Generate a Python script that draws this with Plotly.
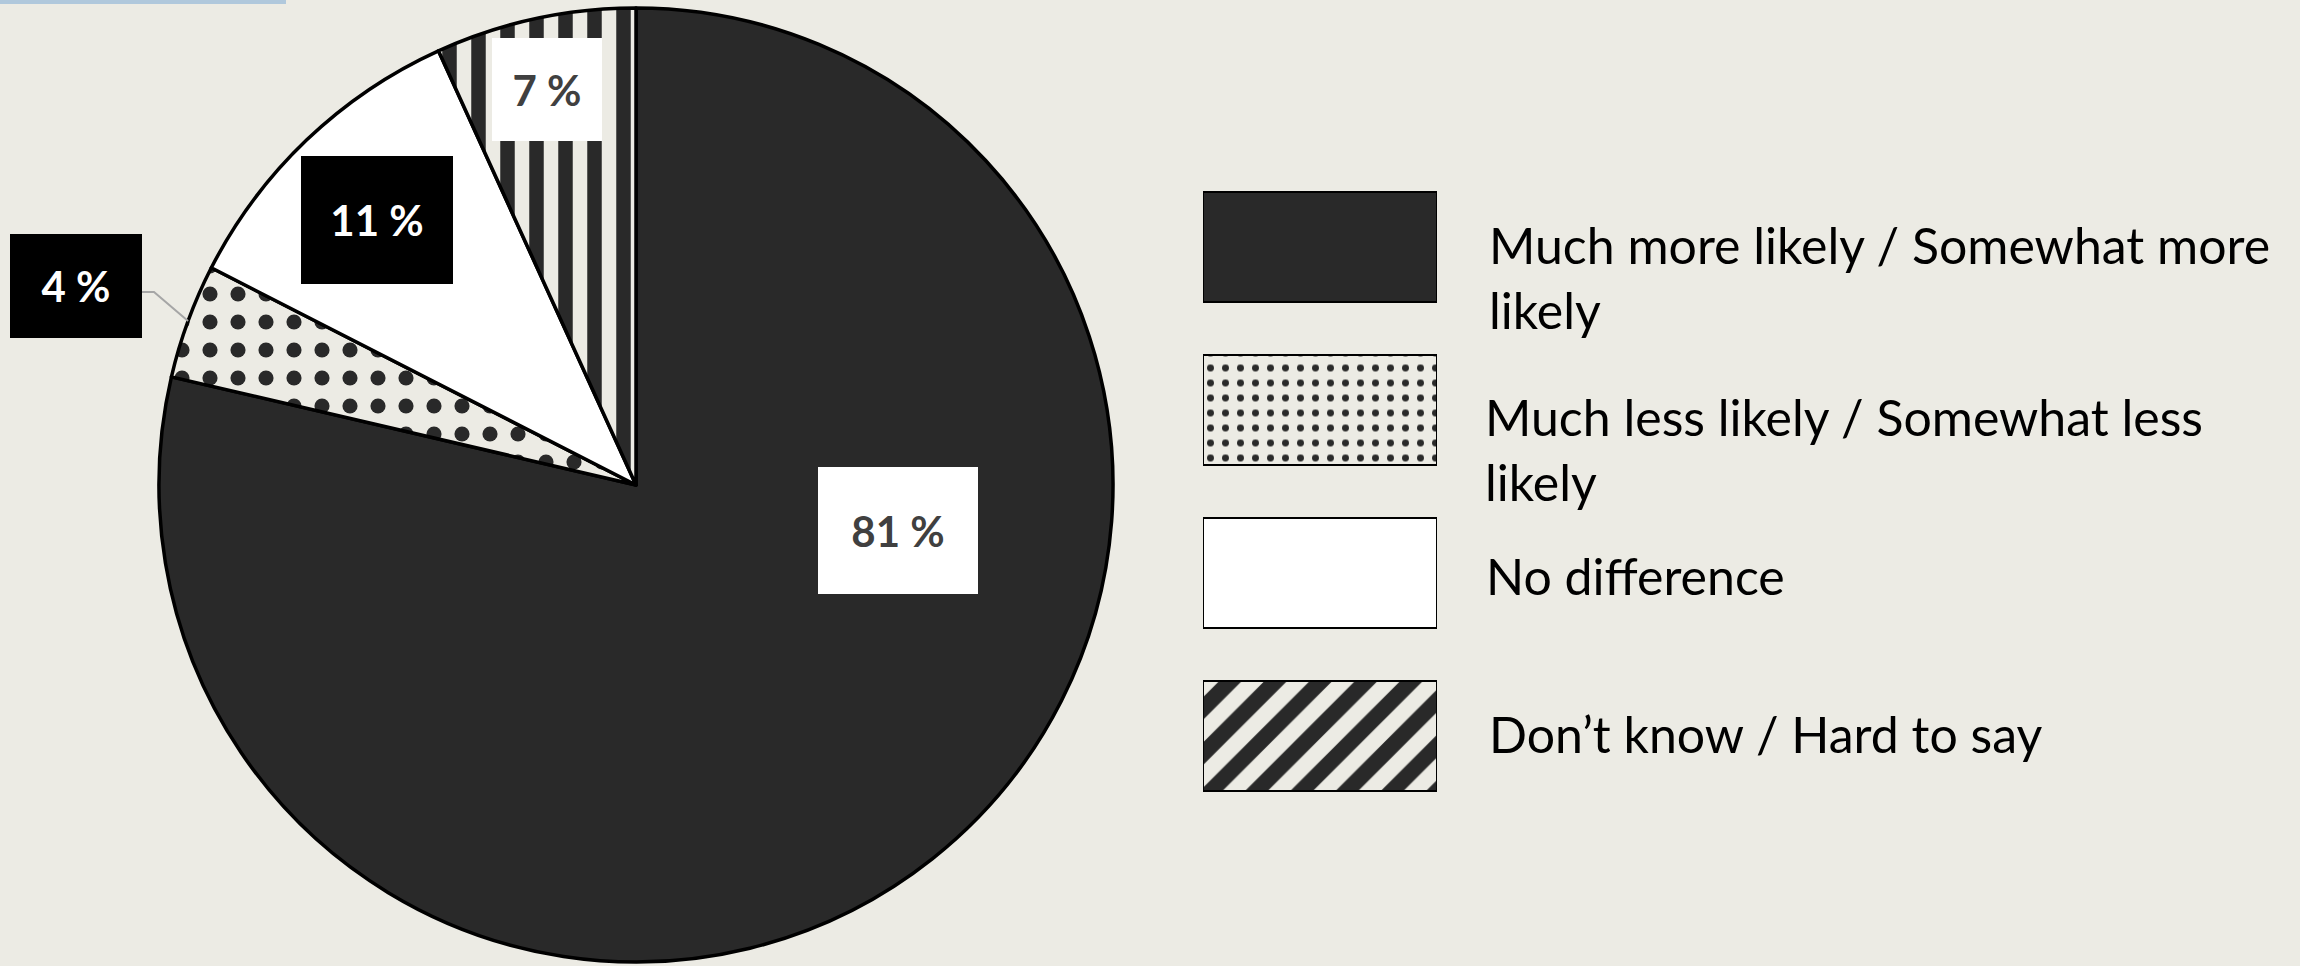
import math
import plotly.graph_objects as go

# ---- data ----
categories = [
    "Much more likely / Somewhat more likely",
    "Much less likely / Somewhat less likely",
    "No difference",
    "Don’t know / Hard to say",
]
legend_texts = [
    "Much more likely / Somewhat more<br>likely",
    "Much less likely / Somewhat less<br>likely",
    "No difference",
    "Don’t know / Hard to say",
]
values = [81, 4, 11, 7]
label_texts = [f"{v} %" for v in values]

# ---- styles ----
W, H = 2300, 966
BG = "#ecebe4"
DARK = "#292929"
fills = [DARK, BG, "#ffffff", BG]
pie_shapes = ["", ".", "", "|"]
pie_fg = [DARK, DARK, "#ffffff", DARK]
pie_size = [10, 28, 10, 29]
pie_sol = [0.3, 0.23, 0.3, 0.5]

leg_shapes = ["", ".", "", "/"]
leg_size = [10, 15, 10, 32]
leg_sol = [0.3, 0.17, 0.3, 0.5]

CX, CY, R = 636, 485, 477  # pie center / radius in px


def px(x):
    return x / W


def py(y):
    return 1 - y / H


fig = go.Figure()

fig.add_trace(go.Pie(
    labels=categories,
    values=values,
    sort=False,
    direction="clockwise",
    rotation=0,
    textinfo="none",
    hoverinfo="label+value",
    showlegend=False,
    domain=dict(x=[px(CX - R), px(CX + R)], y=[py(CY + R), py(CY - R)]),
    marker=dict(
        colors=fills,
        line=dict(color="#000000", width=3.5),
        pattern=dict(shape=pie_shapes, fgcolor=pie_fg, bgcolor=fills,
                     size=pie_size, solidity=pie_sol, fillmode="replace"),
    ),
))

# legend swatches as bars on a hidden axis (one trace per category)
for i, cat in enumerate(categories):
    pat = dict(shape=leg_shapes[i], fgcolor=DARK, bgcolor=fills[i],
               size=leg_size[i], solidity=leg_sol[i], fillmode="replace") \
        if leg_shapes[i] else dict(shape="")
    fig.add_trace(go.Bar(
        x=[1],
        y=[i],
        orientation="h",
        width=0.675,
        base=0,
        xaxis="x2",
        yaxis="y2",
        name=cat,
        showlegend=False,
        hoverinfo="skip",
        marker=dict(color=fills[i], line=dict(color="#000000", width=2),
                    pattern=pat),
    ))

row_top, row_step = 165.5, 163
fig.update_layout(
    width=W, height=H,
    margin=dict(l=0, r=0, t=0, b=0),
    paper_bgcolor=BG, plot_bgcolor=BG,
    barmode="overlay",
    xaxis2=dict(domain=[px(1203), px(1437)], range=[0, 1], visible=False,
                fixedrange=True, anchor="y2"),
    yaxis2=dict(domain=[py(row_top + 4 * row_step), py(row_top)],
                range=[3.5, -0.5], visible=False, fixedrange=True, anchor="x2"),
    xaxis=dict(visible=False), yaxis=dict(visible=False),
)

# legend texts
legend_y = [277, 449, 576, 734]
legend_x = [1487, 1483, 1484, 1487]
for t, yy, xx in zip(legend_texts, legend_y, legend_x):
    fig.add_annotation(
        x=px(xx), y=py(yy), xref="paper", yref="paper",
        text=t, showarrow=False, xanchor="left", yanchor="middle", align="left",
        font=dict(family="Lato", size=50, color="#000000"),
    )

# data labels (boxes)
lab_pos = [(898, 530), (76, 286), (377, 220), (547, 90)]
lab_box = [(160, 127), (132, 104), (152, 128), (110, 103)]
lab_bg = ["#ffffff", "#000000", "#000000", "#ffffff"]
lab_fc = ["#404040", "#ffffff", "#ffffff", "#404040"]
for t, (lx, ly), (bw, bh), bg, fc in zip(label_texts, lab_pos, lab_box, lab_bg, lab_fc):
    fig.add_annotation(
        x=px(lx), y=py(ly), xref="paper", yref="paper",
        text=f"<b>{t}</b>", showarrow=False, xanchor="center", yanchor="middle",
        width=bw, height=bh, bgcolor=bg, borderpad=0, borderwidth=0,
        valign="middle", align="center",
        font=dict(family="Lato", size=42, color=fc),
    )

# leader line for the small slice (ends at the slice's mid-angle on the rim)
total = sum(values)
start = sum(values[:1]) / total * 360
mid = start + values[1] / total * 360 / 2
ex = CX + R * math.sin(math.radians(mid))
ey = CY - R * math.cos(math.radians(mid))
fig.add_shape(
    type="path", xref="paper", yref="paper",
    path=f"M {px(142)},{py(292)} L {px(154)},{py(292)} L {px(ex)},{py(ey)}",
    line=dict(color="#a6a6a6", width=2),
)

# thin blue bar at the top-left
fig.add_shape(type="rect", xref="paper", yref="paper",
              x0=0, x1=px(286), y0=py(4), y1=1,
              fillcolor="#b0c8dc", line=dict(width=0))

fig.write_html(
    "out.html",
    config={"displayModeBar": False},
    post_script="document.body.style.margin='0';document.body.style.overflow='hidden';",
)
